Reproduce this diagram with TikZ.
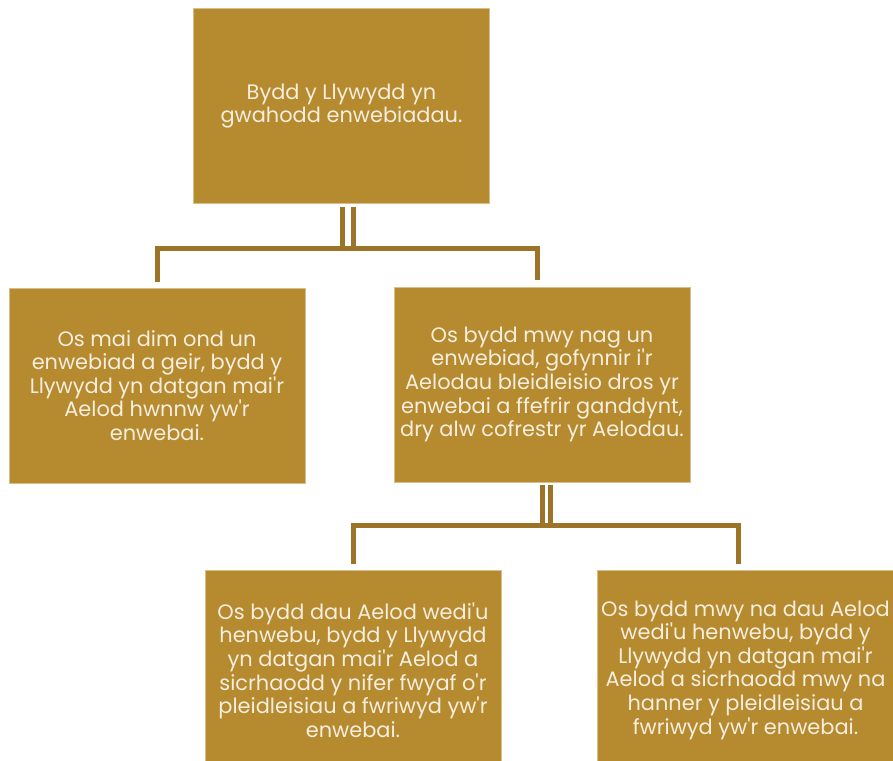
\documentclass[tikz,border=0pt]{standalone}
\usepackage{fontspec}
\setmainfont{Poppins}
\usetikzlibrary{calc}
\definecolor{BoxClr}{HTML}{B68A2F}
\definecolor{LinkClr}{HTML}{9C7428}
\definecolor{TxtClr}{HTML}{F6EEDF}
\newcommand{\ap}{\textquotesingle}

\begin{document}
\begin{tikzpicture}[x=1pt,y=-1pt,
  box/.style={fill=BoxClr,draw=BoxClr!55!white,line width=0.6pt,text=TxtClr,align=center,
    minimum width=296pt,minimum height=195pt,inner sep=0pt,
    font=\fontsize{20.9}{23.6}\selectfont},
  link/.style={draw=LinkClr,line width=5pt}]
\useasboundingbox (0,0) rectangle (893,760);

\node[box] (W) at (341.5,106) {Bydd y Llywydd yn\\gwahodd enwebiadau.};
\node[box] (U) at (157,385.5) {Os mai dim ond un\\enwebiad a geir, bydd y\\Llywydd yn datgan mai\ap r\\Aelod hwnnw yw\ap r\\enwebai.};
\node[box] (M) at (542,384.5) {Os bydd mwy nag un\\enwebiad, gofynnir i\ap r\\Aelodau bleidleisio dros yr\\enwebai a ffefrir ganddynt,\\dry alw cofrestr yr Aelodau.};
\node[box,minimum height=200pt] (D) at (353,670) {Os bydd dau Aelod wedi\ap u\\henwebu, bydd y Llywydd\\yn datgan mai\ap r Aelod a\\sicrhaodd y nifer fwyaf o\ap r\\pleidleisiau a fwriwyd yw\ap r\\enwebai.};
\node[box,minimum height=200pt] (N) at (745.5,670) {Os bydd mwy na dau Aelod\\wedi\ap u henwebu, bydd y\\Llywydd yn datgan mai\ap r\\Aelod a sicrhaodd mwy na\\hanner y pleidleisiau a\\fwriwyd yw\ap r enwebai.};

\coordinate (w1) at (342,248);
\coordinate (w2) at (353.5,248);
\coordinate (u1) at (157.5,248);
\coordinate (m1) at (537.5,248);
\draw[link,shorten <=3pt] (W.south -| w1) -- (w1);
\draw[link,shorten <=3pt] (W.south -| w2) -- (w2);
\draw[link] ([yshift=6pt]U.north -| u1) -- (u1) -- (m1) -- ([yshift=7pt]M.north -| m1);

\coordinate (m2) at (542,525.5);
\coordinate (m3) at (550,525.5);
\coordinate (d1) at (353.5,525.5);
\coordinate (n1) at (738.5,525.5);
\draw[link,shorten <=3pt] (M.south -| m2) -- (m2);
\draw[link,shorten <=3pt] (M.south -| m3) -- (m3);
\draw[link] ([yshift=6pt]D.north -| d1) -- (d1) -- (n1) -- ([yshift=6pt]N.north -| n1);

\end{tikzpicture}
\end{document}
